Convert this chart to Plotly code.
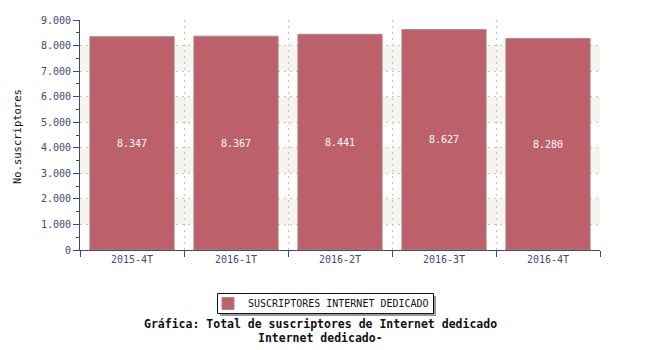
import plotly.graph_objects as go

categories = ["2015-4T", "2016-1T", "2016-2T", "2016-3T", "2016-4T"]
values = [8347, 8367, 8441, 8627, 8280]
series_name = "SUSCRIPTORES INTERNET DEDICADO"
y_title = "No.suscriptores"
title_lines = ["Gráfica: Total de suscriptores de Internet dedicado", "Internet dedicado-"]
band_ranges = [(1000, 2000), (3000, 4000), (5000, 6000), (7000, 8000)]

MONO = "DejaVu Sans Mono"
AXIS = "#3d4a72"
BAR = "#bc606a"

# page body has an 8px margin; work in figure pixel coordinates
W, H = 642, 342
L, T, R, B = 72, 12, 50, 100
PW, PH = W - L - R, H - T - B


def px(fx):
    return (fx - L) / PW


def py(fy):
    return (T + PH - fy) / PH


fig = go.Figure()
fig.add_trace(go.Bar(
    x=categories, y=values, name=series_name,
    marker=dict(color=BAR, line=dict(color="#a88a8f", width=1)),
    width=0.81,
    texttemplate="%{y:,d}", textposition="inside", insidetextanchor="middle",
    textangle=0,
    textfont=dict(family=MONO, size=10, color="white"),
    hoverinfo="x+y",
))

shapes = []
for lo, hi in band_ranges:
    shapes.append(dict(type="rect", xref="paper", yref="y", x0=0, x1=1, y0=lo, y1=hi,
                       fillcolor="#f5f5f0", line=dict(width=0), layer="below"))
# legend box shadow and frame (screen box 217-433 x 293-313)
shapes.append(dict(type="rect", xref="paper", yref="paper",
                   x0=px(212), x1=px(428), y0=py(308), y1=py(288),
                   fillcolor="#9a9a9a", line=dict(width=0), layer="above"))
shapes.append(dict(type="rect", xref="paper", yref="paper",
                   x0=px(209.5), x1=px(425.5), y0=py(305.5), y1=py(285.5),
                   fillcolor="white", line=dict(width=1, color="#111111"), layer="above"))

fig.update_layout(
    width=W, height=H,
    margin=dict(l=L, r=R, t=T, b=B, autoexpand=False),
    paper_bgcolor="white", plot_bgcolor="rgba(0,0,0,0)",
    separators=",.",
    showlegend=True,
    legend=dict(orientation="h", x=px(200), xanchor="left",
                y=py(281), yanchor="top",
                bgcolor="rgba(0,0,0,0)", borderwidth=0,
                font=dict(family=MONO, size=10, color="#111111"),
                itemwidth=30),
    shapes=shapes,
    xaxis=dict(
        type="category", tickson="boundaries",
        showgrid=True, gridcolor="#c4c4c4", griddash="2px,4px", gridwidth=1,
        showline=True, linecolor=AXIS, linewidth=1,
        ticks="outside", ticklen=6, tickcolor=AXIS, tickangle=0,
        tickfont=dict(family=MONO, size=10, color=AXIS),
        zeroline=False, fixedrange=True, automargin=False,
    ),
    yaxis=dict(
        range=[0, 9000], dtick=1000, tickformat=",d",
        showgrid=True, gridcolor="#c4c4c4", griddash="2px,4px", gridwidth=1,
        showline=True, linecolor=AXIS, linewidth=1,
        ticks="outside", ticklen=6, tickcolor=AXIS,
        tickfont=dict(family=MONO, size=10, color=AXIS),
        minor=dict(dtick=500, ticks="outside", ticklen=3, tickcolor=AXIS, showgrid=False),
        zeroline=False, fixedrange=True, automargin=False,
    ),
    annotations=[
        dict(text=y_title, xref="paper", yref="paper", textangle=-90,
             x=px(1), y=py(129), xanchor="left", yanchor="middle",
             showarrow=False, font=dict(family=MONO, size=10.5, color="#111111")),
        dict(text="<b>" + title_lines[0] + "</b>", xref="paper", yref="paper",
             x=px(312), y=py(316), xanchor="center", yanchor="middle",
             showarrow=False, font=dict(family=MONO, size=11.5, color="#111111")),
        dict(text="<b>" + title_lines[1] + "</b>", xref="paper", yref="paper",
             x=px(312), y=py(330), xanchor="center", yanchor="middle",
             showarrow=False, font=dict(family=MONO, size=11.5, color="#111111")),
    ],
)

fig.write_html("out.html")
